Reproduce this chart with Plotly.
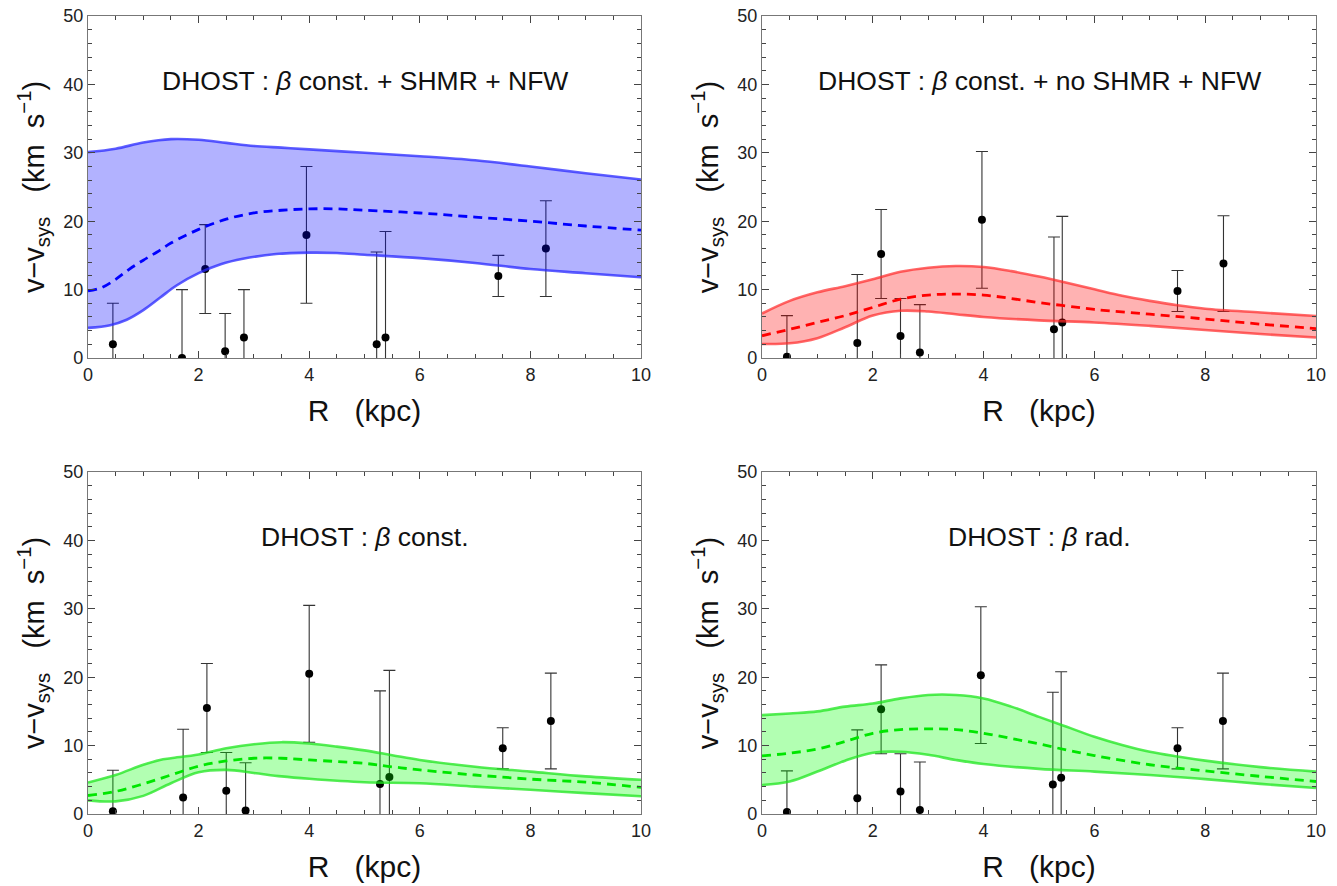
import plotly.graph_objects as go

# ---------------- data ----------------
# Panel 1: DHOST beta const + SHMR + NFW (blue)
p1_x = [0.45, 1.70, 2.12, 2.48, 2.82, 3.95, 5.22, 5.38, 7.42, 8.28]
p1_v = [2.0, 0.0, 13.0, 1.0, 3.0, 18.0, 2.0, 3.0, 12.0, 16.0]
p1_e = [6.0, 10.0, 6.5, 5.5, 7.0, 10.0, 13.5, 15.5, 3.0, 7.0]
p1_rx = [0, 0.5, 1, 1.5, 2, 2.5, 3, 3.5, 4, 5, 6, 7, 8, 9, 10]
p1_up = [30.1, 30.6, 31.5, 32.0, 31.9, 31.45, 31.0, 30.75, 30.5, 30.0, 29.5, 28.9, 28.0, 27.0, 26.1]
p1_lx = [0, 0.4, 0.7, 1.0, 1.3, 1.6, 2.0, 2.4, 2.8, 3.4, 4.0, 4.5, 5, 6, 7, 8, 9, 10]
p1_lo = [4.4, 4.8, 5.6, 7.0, 8.8, 10.6, 12.4, 13.7, 14.5, 15.2, 15.4, 15.35, 15.1, 14.6, 13.9, 13.0, 12.4, 11.8]
p1_mx = [0, 0.25, 0.5, 0.75, 1.0, 1.25, 1.5, 2.0, 2.5, 3.0, 3.5, 4.0, 4.5, 5, 6, 7, 8, 9, 10]
p1_md = [9.8, 10.3, 11.5, 13.0, 14.3, 15.5, 16.8, 18.8, 20.3, 21.2, 21.6, 21.8, 21.8, 21.6, 21.2, 20.6, 20.0, 19.3, 18.7]

# Panel 2: DHOST beta const + no SHMR + NFW (red)
p2_x = [0.45, 1.72, 2.15, 2.50, 2.85, 3.97, 5.27, 5.42, 7.50, 8.33]
p2_v = [0.2, 2.2, 15.2, 3.2, 0.8, 20.2, 4.2, 5.2, 9.8, 13.8]
p2_e = [6.0, 10.0, 6.5, 5.5, 7.0, 10.0, 13.5, 15.5, 3.0, 7.0]
p2_rx = [0, 0.5, 1, 1.5, 2, 2.5, 3, 3.5, 4, 4.5, 5, 5.5, 6, 6.5, 7, 7.5, 8, 9, 10]
p2_up = [6.5, 8.35, 9.6, 10.5, 11.5, 12.6, 13.2, 13.45, 13.3, 12.7, 11.9, 11.0, 10.05, 9.1, 8.35, 7.7, 7.2, 6.65, 6.15]
p2_lx = [0, 0.5, 1, 1.5, 2, 2.5, 3, 3.5, 4, 5, 6, 7, 8, 9, 10]
p2_lo = [2.05, 2.15, 2.9, 4.5, 6.2, 6.9, 6.8, 6.4, 6.0, 5.5, 5.2, 4.7, 4.1, 3.5, 3.0]
p2_mx = [0, 0.5, 1, 1.5, 2, 2.5, 3, 3.5, 4, 4.5, 5, 5.5, 6, 7, 8, 9, 10]
p2_md = [3.25, 4.2, 5.2, 6.2, 7.4, 8.6, 9.2, 9.35, 9.2, 8.7, 8.1, 7.6, 7.1, 6.4, 5.7, 4.95, 4.3]

# Panel 3: DHOST beta const (green)
p3_x = [0.45, 1.72, 2.15, 2.50, 2.85, 4.00, 5.28, 5.45, 7.50, 8.37]
p3_v = [0.4, 2.4, 15.5, 3.4, 0.5, 20.5, 4.4, 5.4, 9.6, 13.6]
p3_e = [6.0, 10.0, 6.5, 5.6, 7.0, 10.0, 13.6, 15.6, 3.0, 7.0]
p3_rx = [0, 0.5, 1, 1.3, 1.5, 2, 2.5, 3, 3.5, 4, 4.5, 5, 5.5, 6, 7, 8, 9, 10]
p3_up = [4.6, 5.7, 7.2, 7.9, 8.15, 8.7, 9.6, 10.2, 10.5, 10.3, 9.85, 9.3, 8.6, 7.9, 6.9, 6.2, 5.5, 5.0]
p3_lx = [0, 0.5, 1, 1.5, 2, 2.5, 3, 3.5, 4, 5, 6, 7, 8, 9, 10]
p3_lo = [2.0, 1.85, 2.65, 4.5, 6.1, 6.45, 6.0, 5.5, 5.15, 4.65, 4.5, 4.0, 3.55, 3.05, 2.6]
p3_mx = [0, 0.5, 1, 1.5, 2, 2.5, 3, 3.5, 4, 5, 5.5, 6, 7, 8, 9, 10]
p3_md = [2.7, 3.3, 4.4, 5.7, 7.0, 7.75, 8.15, 8.15, 7.9, 7.4, 6.9, 6.45, 5.7, 5.1, 4.65, 3.9]

# Panel 4: DHOST beta rad (green)
p4_x = [0.45, 1.72, 2.15, 2.50, 2.85, 3.95, 5.25, 5.40, 7.50, 8.32]
p4_v = [0.3, 2.3, 15.3, 3.3, 0.6, 20.3, 4.3, 5.3, 9.6, 13.6]
p4_e = [6.0, 10.0, 6.5, 5.5, 7.0, 10.0, 13.5, 15.5, 3.0, 7.0]
p4_rx = [0, 0.5, 1, 1.5, 2, 2.5, 3, 3.5, 4, 4.5, 5, 5.5, 6, 6.5, 7, 7.5, 8, 9, 10]
p4_up = [14.45, 14.7, 15.0, 15.7, 16.15, 16.9, 17.4, 17.4, 16.9, 15.7, 14.2, 12.75, 11.3, 10.1, 9.1, 8.4, 7.8, 6.85, 6.2]
p4_lx = [0, 0.5, 1, 1.5, 2, 2.5, 3, 3.5, 4, 5, 6, 7, 8, 9, 10]
p4_lo = [4.25, 4.75, 6.2, 7.8, 8.95, 9.1, 8.65, 7.9, 7.3, 6.6, 6.2, 5.7, 5.1, 4.4, 3.8]
p4_mx = [0, 0.5, 1, 1.5, 2, 2.5, 3, 3.5, 4, 4.5, 5, 5.5, 6, 7, 8, 9, 10]
p4_md = [8.5, 8.9, 9.5, 10.6, 11.8, 12.35, 12.45, 12.35, 11.8, 11.05, 10.25, 9.35, 8.55, 7.2, 6.3, 5.5, 4.75]

titles = ["DHOST : <i>β</i> const. + SHMR + NFW",
          "DHOST : <i>β</i> const. + no SHMR + NFW",
          "DHOST : <i>β</i> const.",
          "DHOST : <i>β</i> rad."]

panels = [
    (p1_x, p1_v, p1_e, p1_rx, p1_up, p1_lx, p1_lo, p1_mx, p1_md),
    (p2_x, p2_v, p2_e, p2_rx, p2_up, p2_lx, p2_lo, p2_mx, p2_md),
    (p3_x, p3_v, p3_e, p3_rx, p3_up, p3_lx, p3_lo, p3_mx, p3_md),
    (p4_x, p4_v, p4_e, p4_rx, p4_up, p4_lx, p4_lo, p4_mx, p4_md),
]

styles = [
    dict(fill="rgba(0,0,255,0.30)", edge="rgba(40,40,255,0.75)", mid="#0000ff"),
    dict(fill="rgba(255,0,0,0.30)", edge="rgba(255,40,40,0.70)", mid="#ff0000"),
    dict(fill="rgba(0,255,0,0.30)", edge="rgba(30,230,30,0.75)", mid="#00e600"),
    dict(fill="rgba(0,255,0,0.30)", edge="rgba(30,230,30,0.75)", mid="#00e600"),
]

# ---------------- layout geometry ----------------
OFF = 8  # default page body margin
W, H = 1337 - OFF, 886 - OFF


def fx(px):
    return (px - OFF) / W


def fy(py):
    return 1 - (py - OFF) / H


xdom = [(fx(88), fx(641)), (fx(762), fx(1316))]
ydom = [(fy(358), fy(16)), (fy(814), fy(472))]
pos = [(0, 0), (1, 0), (0, 1), (1, 1)]

FONT = "Liberation Sans Narrow, Liberation Sans, Arial, sans-serif"
FONT2 = "Liberation Sans, Arial, sans-serif"

fig = go.Figure()
layout = dict(
    width=W, height=H,
    margin=dict(l=0, r=0, t=0, b=0, autoexpand=False),
    paper_bgcolor="white", plot_bgcolor="white",
    showlegend=False, annotations=[],
)

for i, (pan, sty) in enumerate(zip(panels, styles)):
    xs, vs, es, rx, up, lx, lo, mx, md = pan
    xa = "x" if i == 0 else f"x{i+1}"
    ya = "y" if i == 0 else f"y{i+1}"
    fig.add_trace(go.Scatter(
        x=xs, y=vs, mode="markers", xaxis=xa, yaxis=ya,
        marker=dict(color="black", size=8),
        error_y=dict(type="data", array=es, symmetric=True,
                     color="rgba(30,30,30,0.9)", thickness=1.1, width=6),
    ))
    fig.add_trace(go.Scatter(
        x=lx, y=lo, mode="lines", xaxis=xa, yaxis=ya,
        line=dict(color=sty["edge"], width=2.6, shape="spline", smoothing=1.0),
    ))
    fig.add_trace(go.Scatter(
        x=rx, y=up, mode="lines", xaxis=xa, yaxis=ya,
        line=dict(color=sty["edge"], width=2.6, shape="spline", smoothing=1.0),
        fill="tonexty", fillcolor=sty["fill"],
    ))
    fig.add_trace(go.Scatter(
        x=mx, y=md, mode="lines", xaxis=xa, yaxis=ya,
        line=dict(color=sty["mid"], width=2.8, dash="9px,6px", shape="spline", smoothing=1.0),
    ))

    c, r = pos[i]
    axis_common = dict(
        showline=True, linecolor="#777", linewidth=1.2, mirror="allticks",
        ticks="inside", tickcolor="#444", ticklen=7, tickwidth=1,
        showgrid=False, zeroline=False, automargin=False,
        ticklabeloverflow="allow",
        tickfont=dict(family=FONT, size=18, color="#222"),
    )
    xkey = "xaxis" if i == 0 else f"xaxis{i+1}"
    ykey = "yaxis" if i == 0 else f"yaxis{i+1}"
    layout[xkey] = dict(
        axis_common, domain=xdom[c], anchor=ya, range=[0, 10],
        tick0=0, dtick=2,
        minor=dict(ticks="inside", dtick=0.5, ticklen=4, tickcolor="#444", tickwidth=1),
        title=dict(text="R\u00a0\u00a0\u00a0(kpc)", font=dict(family=FONT2, size=30, color="#111"), standoff=16),
    )
    layout[ykey] = dict(
        axis_common, domain=ydom[r], anchor=xa, range=[0, 50],
        tick0=0, dtick=10,
        minor=dict(ticks="inside", dtick=2, ticklen=4, tickcolor="#444", tickwidth=1),
        title=dict(text="v\u2212v<sub>sys</sub>\u00a0\u00a0\u00a0(km\u00a0\u00a0s<sup>\u22121</sup>)",
                   font=dict(family=FONT2, size=29, color="#111"), standoff=10),
    )
    layout["annotations"].append(dict(
        x=5.0, y=40.5, xref=xa, yref=ya, text=titles[i], showarrow=False,
        font=dict(family=FONT2, size=26.5, color="#111"), xanchor="center", yanchor="middle",
    ))

fig.update_layout(**layout)
fig.write_html("out.html")
